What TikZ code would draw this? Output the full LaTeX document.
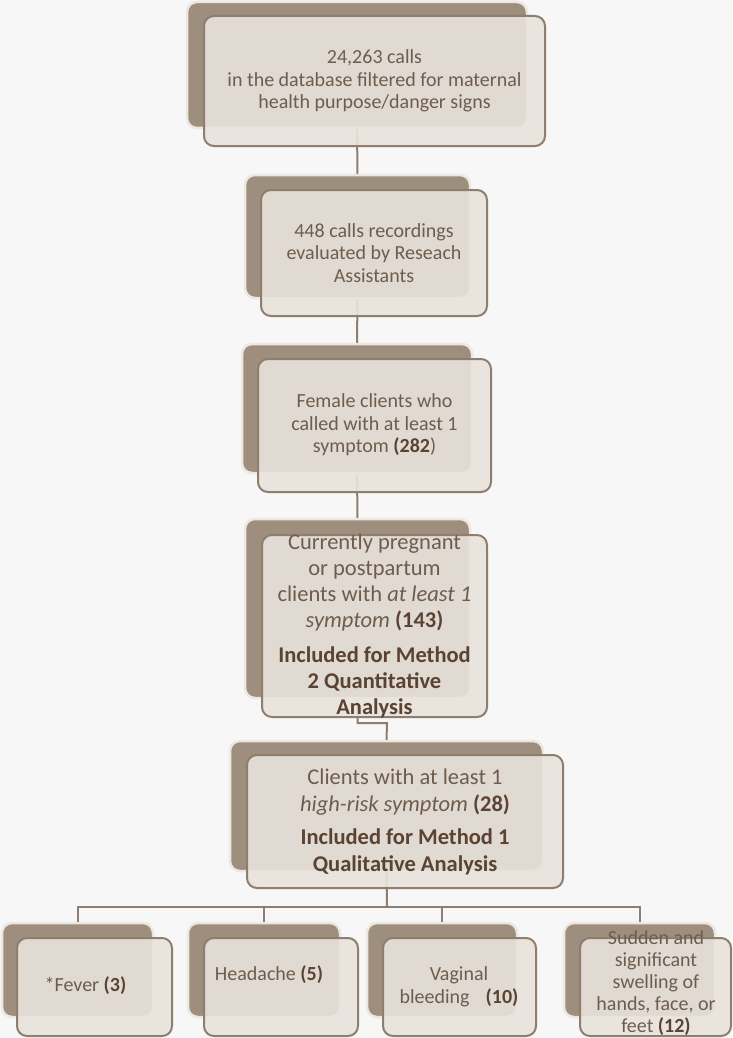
\documentclass[tikz,border=0pt]{standalone}
\usepackage{fontspec}
\setmainfont{Carlito}
\definecolor{bgc}{HTML}{F7F7F7}
\definecolor{backfill}{HTML}{9E8E7E}
\definecolor{backline}{HTML}{ECE7E1}
\definecolor{frontfill}{HTML}{E8E3DC}
\definecolor{frontline}{HTML}{8F7E6D}
\definecolor{txtc}{HTML}{6E5D4E}
\definecolor{boldc}{HTML}{5A4332}
\newcommand\bnum[1]{\textbf{\color{boldc}#1}}
\begin{document}
\begin{tikzpicture}[x=1pt,y=-1pt,
  backbox/.style={draw=backline, line width=2.5pt, fill=backfill, rounded corners=10pt, inner sep=0pt},
  frontbox/.style={draw=frontline, line width=2pt, fill=frontfill, fill opacity=0.9, rounded corners=10pt, inner sep=0pt},
  conn/.style={draw=frontline, line width=2pt},
  lbl/.style={text=txtc, align=center, inner sep=0pt, font=\fontsize{20}{22.5}\selectfont},
  biglbl/.style={text=txtc, align=center, inner sep=0pt, font=\fontsize{22.5}{26}\selectfont}]
\useasboundingbox[fill=bgc] (0,0) rectangle (732,1038);

% back boxes
\node[backbox, minimum width=340pt, minimum height=126pt] (b1) at (357,65) {};
\node[backbox, minimum width=225pt, minimum height=123pt] (b2) at (357.5,236.5) {};
\node[backbox, minimum width=230pt, minimum height=129pt] (b3) at (357,408.5) {};
\node[backbox, minimum width=225pt, minimum height=179pt] (b4) at (357.5,608.5) {};
\node[backbox, minimum width=313pt, minimum height=130pt] (b5) at (386.5,806) {};
\node[backbox, minimum width=151pt, minimum height=94pt] (ba) at (77.5,970) {};
\node[backbox, minimum width=152pt, minimum height=94pt] (bb) at (264,970) {};
\node[backbox, minimum width=150pt, minimum height=94pt] (bc) at (442,970) {};
\node[backbox, minimum width=151pt, minimum height=94pt] (bd) at (639.5,970) {};

% connectors
\coordinate (bus1) at (387,723);
\coordinate (bus2) at (387,907);
\draw[conn] (b1.south) -- (b2.north);
\draw[conn] (b2.south) -- (b3.north);
\draw[conn] (b3.south) -- (b4.north);
\draw[conn] (b4.south) |- (bus1) -- (b5.north);
\draw[conn] (b5.south) -- (bus2);
\foreach \k in {ba,bb,bc,bd} {\draw[conn] (bus2) -| (\k.north);}

% front boxes
\node[frontbox, minimum width=341pt, minimum height=130pt] (f1) at (374.5,81) {};
\node[frontbox, minimum width=226pt, minimum height=126pt] (f2) at (374,253) {};
\node[frontbox, minimum width=233pt, minimum height=133pt] (f3) at (374.5,425.5) {};
\node[frontbox, minimum width=225pt, minimum height=182pt] (f4) at (374.5,626) {};
\node[frontbox, minimum width=316pt, minimum height=133pt] (f5) at (405,821.5) {};
\node[frontbox, minimum width=155pt, minimum height=98pt] (fa) at (94.5,987) {};
\node[frontbox, minimum width=154pt, minimum height=98pt] (fb) at (281,987) {};
\node[frontbox, minimum width=153pt, minimum height=98pt] (fc) at (459.5,987) {};
\node[frontbox, minimum width=151pt, minimum height=98pt] (fd) at (655.5,987) {};

% texts
\node[lbl] (t1) at (374.5,81) {24,263 calls\\in the database filtered for maternal\\health purpose/danger signs};
\node[lbl] (t2) at (374,253) {448 calls recordings\\evaluated by Reseach\\Assistants};
\node[lbl] (t3) at (374.5,425) {Female clients who\\called with at least 1\\symptom \bnum{(282}{)}};
\node[biglbl] (t4) at (374.5,626) {Currently pregnant\\or postpartum\\clients with \textit{at least 1}\\\textit{symptom} \bnum{(143)}\\[9pt]
  \bnum{Included for Method}\\\bnum{2 Quantitative}\\\bnum{Analysis}};
\node[biglbl, font=\fontsize{22.5}{27}\selectfont] (t5) at (405,821.5) {Clients with at least 1\\\textit{high-risk symptom} \bnum{(28)}\\[6pt]
  \bnum{Included for Method 1}\\\bnum{Qualitative Analysis}};
\node[lbl] (ta) at (85.5,986) {*Fever \bnum{(3)}};
\node[lbl] (tb) at (269,975) {Headache \bnum{(5)}};
\node[lbl] (tc) at (459,987) {Vaginal\\bleeding\hspace{16pt}\bnum{(10)}};
\node[lbl, font=\fontsize{20}{22}\selectfont] (td) at (656,983) {Sudden and\\significant\\swelling of\\hands, face, or\\feet \bnum{(12)}};
\end{tikzpicture}
\end{document}
